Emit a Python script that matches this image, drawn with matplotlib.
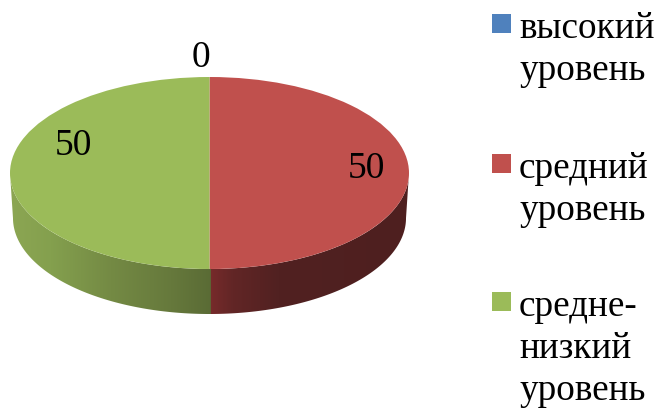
import numpy as np
import matplotlib
matplotlib.use("Agg")
import matplotlib.pyplot as plt
from matplotlib.colors import LinearSegmentedColormap
from matplotlib.patches import Rectangle, Polygon

categories = ["высокий\nуровень", "средний\nуровень", "средне-\nнизкий\nуровень"]
values = [0, 50, 50]
colors = ["#4F81BD", "#C0504D", "#9BBB59"]
side_ramps = [None,
              [(0, "#7A2B2B"), (0.12, "#622626"), (0.35, "#512121"), (1, "#4E1F1F")],
              [(0, "#5A6B35"), (0.2, "#66793C"), (0.5, "#748A44"), (0.8, "#84A04E"), (1, "#8CA653")]]

W, H = 664, 411
fig = plt.figure(figsize=(W / 100, H / 100), dpi=100)
plt.rcParams["font.family"] = ["Liberation Serif", "DejaVu Serif"]

# overlay in pixel coordinates for text and legend
ov = fig.add_axes([0, 0, 1, 1], zorder=3)
ov.set_xlim(0, W); ov.set_ylim(H, 0); ov.axis("off"); ov.patch.set_alpha(0)

# pie axes: unit circle maps to the ellipse; the axes also holds the rim below it
cx, cy, rx, ry, depth = 209.5, 173, 199.5, 96, 45
d = depth / ry
pie_ax = fig.add_axes([(cx - rx) / W, 1 - (cy + ry + depth) / H,
                       2 * rx / W, (2 * ry + depth) / H], zorder=1)
wedges, _ = pie_ax.pie(values, colors=colors, startangle=90, counterclock=False, radius=1,
                       wedgeprops=dict(linewidth=0), frame=False)
for w in wedges:
    w.set_zorder(5)

# extruded rim, built from the wedge angles: only the lower half of the ellipse shows
shrink = 0.985
for w, ramp in zip(wedges, side_ramps):
    if ramp is None:
        continue
    t1, t2 = w.theta1 % 360, w.theta2 % 360
    if t2 <= t1:
        t2 += 360
    candidates = [(max(t1, 180), min(t2, 360)), (max(t1, 540), min(t2, 720))]
    lo, hi = next((a, b) for a, b in candidates if b > a)
    lo, hi = max(lo - 0.4, 180), min(hi + 0.4, 360)
    th = np.radians(np.linspace(lo, hi, 200))
    top = np.c_[np.cos(th), np.sin(th)]
    bottom = np.c_[np.cos(th) * shrink, np.sin(th) - d][::-1]
    clip = Polygon(np.r_[top, bottom], closed=True, fc="none", ec="none")
    pie_ax.add_patch(clip)
    x0, x1 = (-0.01, 1) if np.cos(th).mean() > 0 else (-1, 0.01)
    cmap = LinearSegmentedColormap.from_list("rim", ramp)
    grad = np.linspace(0, 1, 256)[None, :]
    if x0 < -0.5:
        grad = grad[:, ::-1]
    im = pie_ax.imshow(grad, cmap=cmap, vmin=0, vmax=1, extent=(x0, x1, -1 - d, 0),
                       aspect="auto", zorder=2, interpolation="bilinear")
    im.set_clip_path(clip)

pie_ax.set_aspect("auto")
pie_ax.set_xlim(-1, 1); pie_ax.set_ylim(-1 - d, 1)
pie_ax.axis("off")

# data labels
lab_pos = [(201, 58), (366, 169), (73, 146)]
for v, (x, y) in zip(values, lab_pos):
    ov.text(x, y, str(v), fontsize=27, ha="center", va="center", color="black")

# legend
sq_y = [14, 154, 292]
for cat, col, y in zip(categories, colors, sq_y):
    ov.add_patch(Rectangle((492, y), 19, 19, fc=col, ec="none"))
    for i, line in enumerate(cat.split("\n")):
        ov.text(519, y + 24 + 42 * i, line, fontsize=26.8, ha="left", va="baseline", color="black")

fig.savefig("out.png", dpi=100)
